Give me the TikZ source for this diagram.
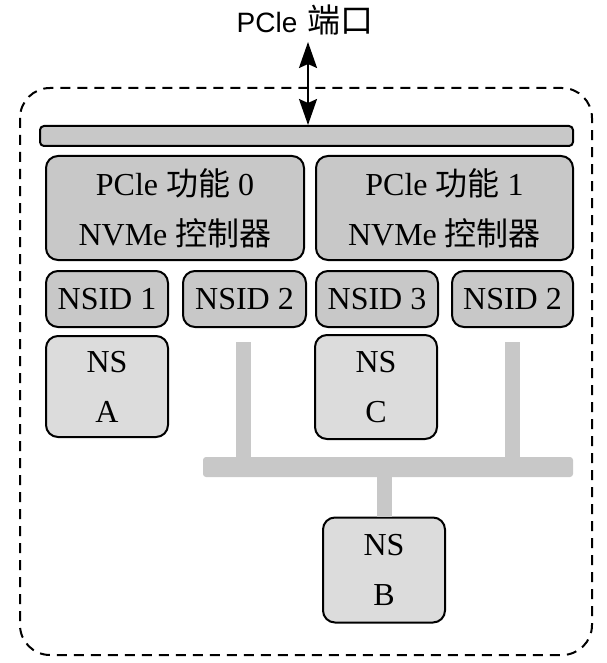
\documentclass[tikz,border=0pt]{standalone}
\usepackage{fontspec}
\setmainfont{Liberation Serif}
\newfontfamily\titlefont{Liberation Sans}
\newfontfamily\cjk{Noto Sans CJK SC}
\usetikzlibrary{arrows.meta}
\definecolor{boxgray}{HTML}{C8C8C8}
\definecolor{nsgray}{HTML}{DCDCDC}
\definecolor{linkgray}{HTML}{C8C8C8}
\tikzset{
  box/.style={draw=black, line width=2pt, rounded corners=12pt, fill=boxgray,
    inner sep=0pt, align=center, font=\fontsize{32}{50}\selectfont},
  nsbox/.style={box, fill=nsgray},
  link/.style={draw=linkgray, line cap=butt},
  porttip/.tip={Stealth[length=26pt,width=18pt,inset=4pt]},
}
\begin{document}
\begin{tikzpicture}[x=1pt,y=-1pt]
\useasboundingbox (0,0) rectangle (606,663);
% dashed enclosure
\draw[line width=2pt, dash pattern=on 10pt off 7pt, rounded corners=30pt] (20,88) rectangle (592,655);
% title
\node (title) at (305,20) {\titlefont\fontsize{28}{30}\selectfont PCle\hspace{10pt}{\cjk\fontsize{33}{34}\selectfont 端口}};
% bus bar
\node[box, rounded corners=4pt, minimum width=533pt, minimum height=20pt] (bus) at (306.5,136) {};
\coordinate (port) at (308,42);
\draw[line width=2pt, {porttip}-{porttip}] (port) -- (port |- bus.north);
% controllers
\node[box, minimum width=258pt, minimum height=104pt] (c0) at (175,208) {PCle {\cjk 功能} 0\\NVMe {\cjk 控制器}};
\node[box, minimum width=257pt, minimum height=104pt] (c1) at (444.5,208) {PCle {\cjk 功能} 1\\NVMe {\cjk 控制器}};
% NSIDs
\node[box, minimum width=122pt, minimum height=56pt] (n1) at (107,299) {NSID 1};
\node[box, minimum width=123pt, minimum height=56pt] (n2a) at (244.5,299) {NSID 2};
\node[box, minimum width=122pt, minimum height=56pt] (n3) at (377,299) {NSID 3};
\node[box, minimum width=121pt, minimum height=56pt] (n2b) at (512.5,299) {NSID 2};
% namespaces
\node[nsbox, minimum width=122pt, minimum height=101pt] (nsa) at (107,386.5) {NS\\A};
\node[nsbox, minimum width=122pt, minimum height=104pt] (nsc) at (376,387) {NS\\C};
\node[nsbox, minimum width=122pt, minimum height=105pt] (nsb) at (384,570) {NS\\B};
% shared namespace links
\coordinate (la) at (243,342);
\coordinate (lb) at (512,342);
\coordinate (hl) at (203,467);
\coordinate (hr) at (573,467);
\coordinate (hm) at (384,467);
\draw[link, line width=15pt] (la) -- (la |- hl);
\draw[link, line width=15pt] (lb) -- (lb |- hl);
\draw[link, line width=15pt] (hm) -- (nsb.north);
\fill[linkgray, rounded corners=3pt] ([yshift=-10pt]hl) rectangle ([yshift=10pt]hr);
\end{tikzpicture}
\end{document}
